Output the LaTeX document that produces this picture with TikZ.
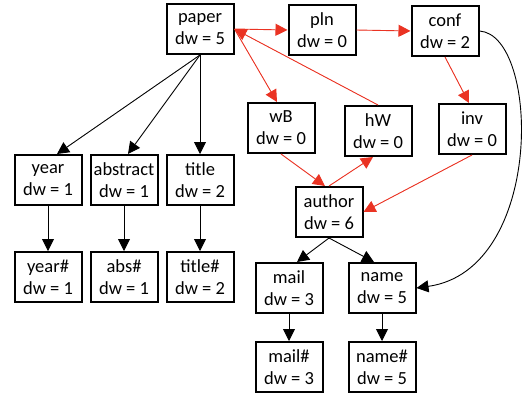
\documentclass[tikz,border=0pt]{standalone}
\usepackage{fontspec}
\setmainfont{Carlito}
\usetikzlibrary{arrows.meta,calc}
\definecolor{edgered}{RGB}{234,51,35}
\begin{document}
\begin{tikzpicture}[x=1pt,y=-1pt,
 box/.style={draw,line width=2pt,minimum width=67pt,minimum height=50pt,inner sep=0pt,align=center,font=\fontsize{18.5}{22}\selectfont},
 blk/.style={-{Triangle[length=12pt,width=12pt]},line width=0.9pt},
 redarr/.style={-{Triangle[length=12pt,width=12pt]},line width=0.9pt,draw=edgered,fill=edgered}]
\useasboundingbox (0,0) rectangle (529,400);
\node[box] (paper) at (200,29) {paper\\dw = 5};
\node[box] (pln) at (322,30) {pln\\dw = 0};
\node[box] (conf) at (445,31) {conf\\dw = 2};
\node[box] (wB) at (281,128) {wB\\dw = 0};
\node[box] (hW) at (378,131) {hW\\dw = 0};
\node[box] (inv) at (472,129) {inv\\dw = 0};
\node[box] (author) at (329,212) {author\\dw = 6};
\node[box] (year) at (48,180) {year\\dw = 1};
\node[box] (abstract) at (124,180) {abstract\\dw = 1};
\node[box] (title) at (200,180) {title\\dw = 2};
\node[box] (yearh) at (48,277) {year\#\\dw = 1};
\node[box] (absh) at (124,277) {abs\#\\dw = 1};
\node[box] (titleh) at (200,277) {title\#\\dw = 2};
\node[box] (mail) at (289,288) {mail\\dw = 3};
\node[box] (name) at (382,288) {name\\dw = 5};
\node[box] (mailh) at (289,367) {mail\#\\dw = 3};
\node[box] (nameh) at (382,367) {name\#\\dw = 5};
% black edges
\draw[blk] (paper.south) -- ($(year.north)+(9,0)$);
\draw[blk] (paper.south) -- ($(abstract.north)+(4,0)$);
\draw[blk] (paper.south) -- (title.north);
\draw[blk] (year.south) -- (yearh.north);
\draw[blk] (abstract.south) -- (absh.north);
\draw[blk] (title.south) -- (titleh.north);
\draw[blk] (author.south) -- ($(mail.north)+(8,0)$);
\draw[blk] (author.south) -- ($(name.north)+(-8,0)$);
\draw[blk] (mail.south) -- (mailh.north);
\draw[blk] (name.south) -- (nameh.north);
\draw[blk] (conf.east) .. controls (540,35) and (545,270) .. (name.east);
% red edges
\draw[redarr] (paper.east) -- (pln.west);
\draw[redarr] (pln.east) -- (conf.west);
\draw[redarr] (paper.east) -- ($(wB.north)+(-4,0)$);
\draw[redarr] (hW.north) -- (paper.east);
\draw[redarr] (conf.south) -- ($(inv.north)+(-3,0)$);
\draw[redarr] (wB.south) -- ($(author.north)+(-4,0)$);
\draw[redarr] (author.north) -- ($(hW.south)+(-5,0)$);
\draw[redarr] (inv.south) -- (author.east);
\end{tikzpicture}
\end{document}
